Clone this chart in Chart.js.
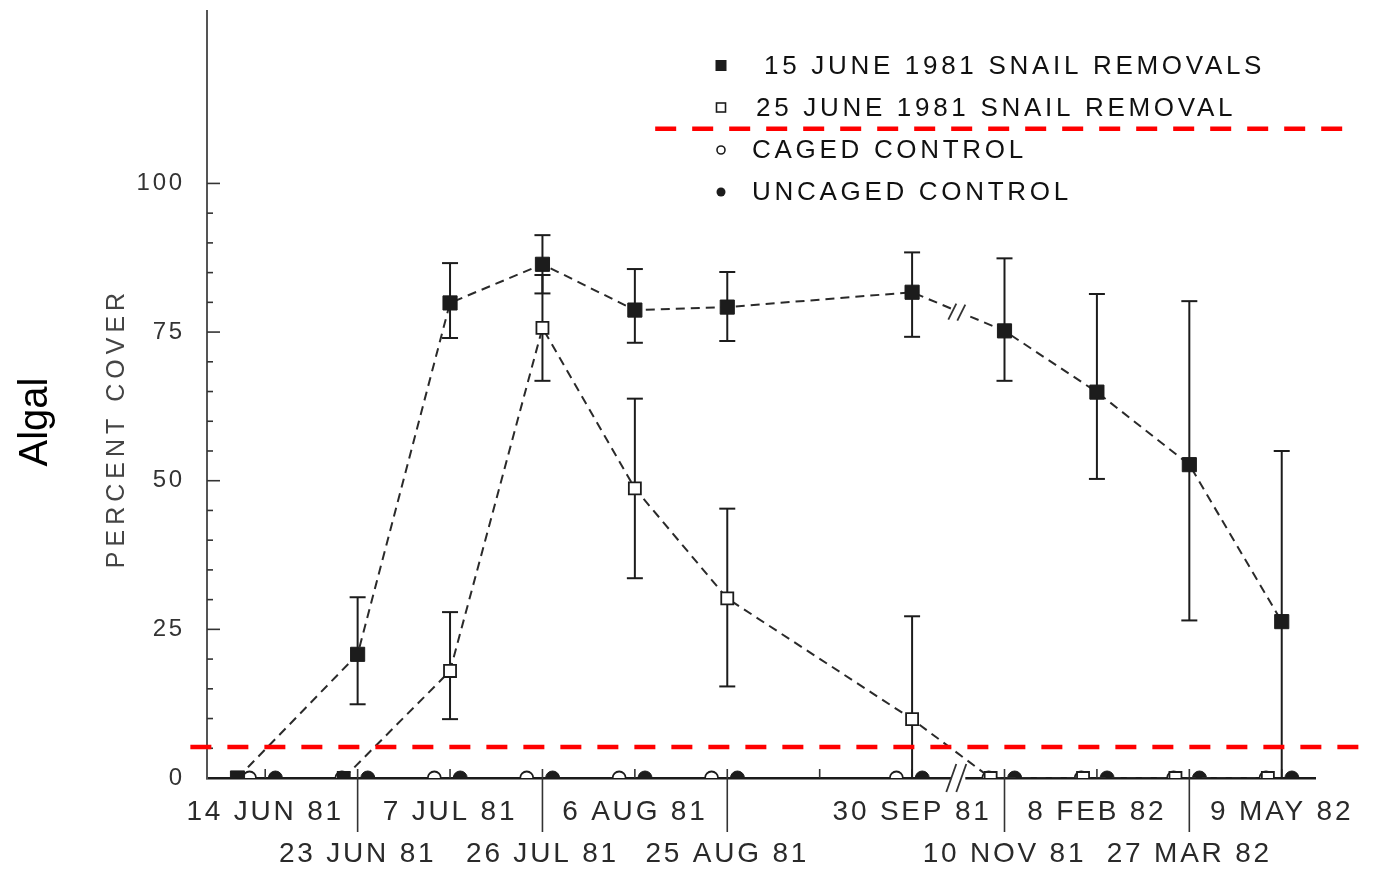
<!DOCTYPE html>
<html>
<head>
<meta charset="utf-8">
<script src="https://cdn.jsdelivr.net/npm/chart.js@4.4.1/dist/chart.umd.min.js"></script>
<style>
  html, body { margin: 0; padding: 0; background: #ffffff; }
  #wrap { position: relative; width: 1378px; height: 871px; }
</style>
</head>
<body>
<div id="wrap"><canvas id="c"></canvas></div>
<script>
// ---------- data ----------
const dateLabels = ['14 JUN 81', '23 JUN 81', '7 JUL 81', '26 JUL 81', '6 AUG 81', '25 AUG 81', '',
                    '30 SEP 81', '10 NOV 81', '8 FEB 82', '27 MAR 82', '9 MAY 82'];
const labelRow = [0, 1, 0, 1, 0, 1, 0, 0, 1, 0, 1, 0];          // 1 = lower label row
const seriesNames = ['15 JUNE 1981 SNAIL REMOVALS', '25 JUNE 1981 SNAIL REMOVAL',
                     'CAGED CONTROL', 'UNCAGED CONTROL'];
const removal15   = [0, 20.8, 79.9, 86.4, 78.7, 79.2, null, 81.7, 75.2, 64.9, 52.7, 26.3];
const removal15Hi = [null, 30.4, 86.6, 91.3, 85.6, 85.1, null, 88.4, 87.4, 81.4, 80.2, 55.0];
const removal15Lo = [null, 12.4, 74.0, 81.5, 73.2, 73.5, null, 74.2, 66.8, 50.3, 26.5, 0];
const removal25   = [null, 0, 18.0, 75.7, 48.7, 30.2, null, 9.9, 0, 0, 0, 0];
const removal25Hi = [null, null, 27.9, 84.6, 63.8, 45.3, null, 27.2, null, null, null, null];
const removal25Lo = [null, null, 9.9, 66.8, 33.6, 15.4, null, 0, null, null, null, null];
const cagedControl   = [0, 0, 0, 0, 0, 0, null, 0, 0, 0, 0, 0];
const uncagedControl = [0, 0, 0, 0, 0, 0, null, 0, 0, 0, 0, 0];
const yTickLabels = [0, 25, 50, 75, 100];
const yTitle = 'PERCENT COVER';
const sideTitle = 'Algal';
const refLineY    = [5.2, 109.2];
const refLineFrom = [-0.81, 4.22];
const refLineTo   = [11.85, 11.74];

// ---------- build datasets ----------
function points(vals, hi, lo, zeroShift, shift) {
  const out = [];
  vals.forEach((v, i) => {
    if (v === null) return;
    out.push({ x: i + (v === 0 ? zeroShift : shift), y: v,
               hi: hi ? hi[i] : null, lo: lo ? lo[i] : null });
  });
  return out;
}
const d15 = points(removal15, removal15Hi, removal15Lo, -0.30, 0);
const d25 = points(removal25, removal25Hi, removal25Lo, -0.15, 0);
const dCaged = points(cagedControl, null, null, -0.17, -0.17);
const dUncaged = points(uncagedControl, null, null, 0.11, 0.11);

const INK = '#1c1c1c';
const FONT = "'Liberation Sans', 'DejaVu Sans', sans-serif";

const datasets = [
  { label: seriesNames[0], data: d15, borderColor: '#2a2a2a', borderWidth: 2, borderDash: [9, 6],
    pointStyle: 'rect', pointRadius: 10, pointBackgroundColor: INK, pointBorderColor: INK,
    pointBorderWidth: 1, fill: false, tension: 0, order: 2 },
  { label: seriesNames[1], data: d25, borderColor: '#2a2a2a', borderWidth: 2, borderDash: [9, 6],
    pointStyle: 'rect', pointRadius: 8.5,
    pointBackgroundColor: d25.map((p, i) => i === 0 ? INK : '#ffffff'),
    pointBorderColor: INK, pointBorderWidth: 1.8, fill: false, tension: 0, order: 3 },
  { label: seriesNames[2], data: dCaged, showLine: false, pointStyle: 'circle', pointRadius: 6.5,
    pointBackgroundColor: '#ffffff', pointBorderColor: INK, pointBorderWidth: 1.8, order: 4 },
  { label: seriesNames[3], data: dUncaged, showLine: false, pointStyle: 'circle', pointRadius: 7,
    pointBackgroundColor: INK, pointBorderColor: INK, pointBorderWidth: 1, order: 5 },
];
refLineY.forEach((yv, k) => {
  datasets.push({ label: 'ref' + k, data: [{ x: refLineFrom[k], y: yv }, { x: refLineTo[k], y: yv }],
    borderColor: '#ff0000', borderWidth: 4.5, borderDash: [21, 16], pointRadius: 0,
    clip: false, fill: false, order: 0 });
});

// ---------- decorations drawn through the scales ----------
function seg(ctx, x1, y1, x2, y2) { ctx.beginPath(); ctx.moveTo(x1, y1); ctx.lineTo(x2, y2); ctx.stroke(); }

const decor = {
  id: 'decor',
  beforeDraw(chart) { chart.ctx.letterSpacing = '2.8px'; },
  beforeDatasetsDraw(chart) {
    const { ctx, scales: { x, y }, chartArea: a } = chart;
    ctx.save();
    ctx.letterSpacing = '0px';
    ctx.strokeStyle = '#333';
    ctx.lineWidth = 1.6;
    // inner ticks on the y axis
    y.ticks.forEach(t => {
      if (t.value === 0) return;
      const py = y.getPixelForValue(t.value);
      seg(ctx, a.left, py, a.left + (yTickLabels.includes(t.value) ? 13 : 6), py);
    });
    // small ticks on x axis, long separators for lower-row labels
    x.ticks.forEach((t, i) => {
      const px = x.getPixelForValue(t.value);
      seg(ctx, px, a.bottom, px, a.bottom - 9);
      if (labelRow[i] === 1) seg(ctx, px, a.bottom, px, a.bottom + 54);
    });
    // error bars
    ctx.strokeStyle = INK;
    ctx.lineWidth = 2;
    [0, 1].forEach(di => {
      const meta = chart.getDatasetMeta(di);
      chart.data.datasets[di].data.forEach((p, j) => {
        if (p.hi === null || p.hi === undefined) return;
        const px = meta.data[j].x;
        const yh = y.getPixelForValue(p.hi), yl = y.getPixelForValue(p.lo);
        seg(ctx, px, yh, px, yl);
        seg(ctx, px - 8, yh, px + 8, yh);
        seg(ctx, px - 8, yl, px + 8, yl);
      });
    });
    ctx.restore();
  },
  afterDraw(chart) {
    const { ctx, scales: { x, y }, chartArea: a } = chart;
    ctx.save();
    // axis break on x axis
    const bx = x.getPixelForValue(7.5);
    ctx.fillStyle = '#fff';
    ctx.fillRect(bx - 7, a.bottom - 3, 14, 6);
    ctx.strokeStyle = '#333';
    ctx.lineWidth = 1.8;
    seg(ctx, bx - 12, a.bottom + 14, bx - 2, a.bottom - 14);
    seg(ctx, bx - 2, a.bottom + 14, bx + 8, a.bottom - 14);
    // break marks on the 15 June line
    const m = chart.getDatasetMeta(0).data;
    const pA = m[d15.findIndex(p => p.x === 7)], pB = m[d15.findIndex(p => p.x === 8)];
    const mx = (pA.x + pB.x) / 2, my = (pA.y + pB.y) / 2;
    ctx.fillStyle = '#fff';
    ctx.fillRect(mx - 7, my - 4, 14, 8);
    seg(ctx, mx - 10, my + 8, mx - 2, my - 8);
    seg(ctx, mx - 1, my + 9, mx + 7, my - 7);

    // texts
    ctx.fillStyle = '#000';
    ctx.letterSpacing = '0px';
    ctx.font = '40px ' + FONT;
    ctx.textAlign = 'center';
    ctx.textBaseline = 'middle';
    ctx.save(); ctx.translate(36, 422); ctx.rotate(-Math.PI / 2); ctx.fillText(sideTitle, 0, 0); ctx.restore();

    ctx.fillStyle = '#444';
    ctx.letterSpacing = '5px';
    ctx.font = '25px ' + FONT;
    ctx.save(); ctx.translate(117, 428); ctx.rotate(-Math.PI / 2); ctx.fillText(yTitle, 0, 0); ctx.restore();

    // legend
    const rows = [66, 108, 150, 192];
    const tx = [764, 756, 752, 752];
    ctx.letterSpacing = '3.7px';
    ctx.font = '26px ' + FONT;
    ctx.textAlign = 'left';
    rows.forEach((ry, k) => {
      const mx0 = 721;
      ctx.strokeStyle = INK; ctx.fillStyle = INK; ctx.lineWidth = 1.6;
      if (k === 0) ctx.fillRect(mx0 - 5.5, ry - 6, 11, 11);
      if (k === 1) { ctx.fillStyle = '#fff'; ctx.fillRect(mx0 - 4.5, ry - 5, 9, 9); ctx.strokeRect(mx0 - 4.5, ry - 5, 9, 9); }
      if (k === 2) { ctx.beginPath(); ctx.arc(mx0, ry, 4, 0, Math.PI * 2); ctx.fillStyle = '#fff'; ctx.fill(); ctx.stroke(); }
      if (k === 3) { ctx.beginPath(); ctx.arc(mx0, ry, 4.5, 0, Math.PI * 2); ctx.fill(); }
      ctx.fillStyle = '#111';
      ctx.fillText(chart.data.datasets[k].label, tx[k], ry + 1);
    });
    ctx.restore();
  }
};

new Chart(document.getElementById('c'), {
  type: 'line',
  data: { datasets },
  options: {
    responsive: true,
    maintainAspectRatio: false,
    animation: false,
    events: [],
    layout: { padding: { top: 10, right: 63, left: 0, bottom: 0 } },
    plugins: { legend: { display: false }, tooltip: { enabled: false } },
    scales: {
      x: {
        type: 'linear',
        min: -0.63, max: 11.36,
        afterBuildTicks: s => { s.ticks = dateLabels.map((_, i) => ({ value: i })); },
        afterFit: s => { s.height = 93; s.paddingLeft = 0; s.paddingRight = 0; },
        grid: { drawOnChartArea: false, drawTicks: false },
        border: { display: true, color: '#1a1a1a', width: 2.6 },
        ticks: {
          autoSkip: false, maxRotation: 0, minRotation: 0, padding: 13,
          color: '#2a2a2a',
          font: { family: FONT, size: 28, lineHeight: 1.5 },
          callback: v => {
            const i = Math.round(v);
            return labelRow[i] === 1 ? ['', dateLabels[i]] : [dateLabels[i]];
          }
        }
      },
      y: {
        type: 'linear',
        min: 0, max: 129,
        afterBuildTicks: s => { const t = []; for (let v = 0; v <= 100; v += 5) t.push({ value: v }); s.ticks = t; },
        afterFit: s => { s.width = 207; s.paddingTop = 0; s.paddingBottom = 0; },
        grid: { drawOnChartArea: false, drawTicks: false },
        border: { display: true, color: '#555', width: 2 },
        ticks: {
          autoSkip: false, padding: 22, color: '#333',
          font: { family: FONT, size: 24 },
          callback: v => yTickLabels.includes(v) ? String(v) : ''
        }
      }
    }
  },
  plugins: [decor]
});
</script>
</body>
</html>
